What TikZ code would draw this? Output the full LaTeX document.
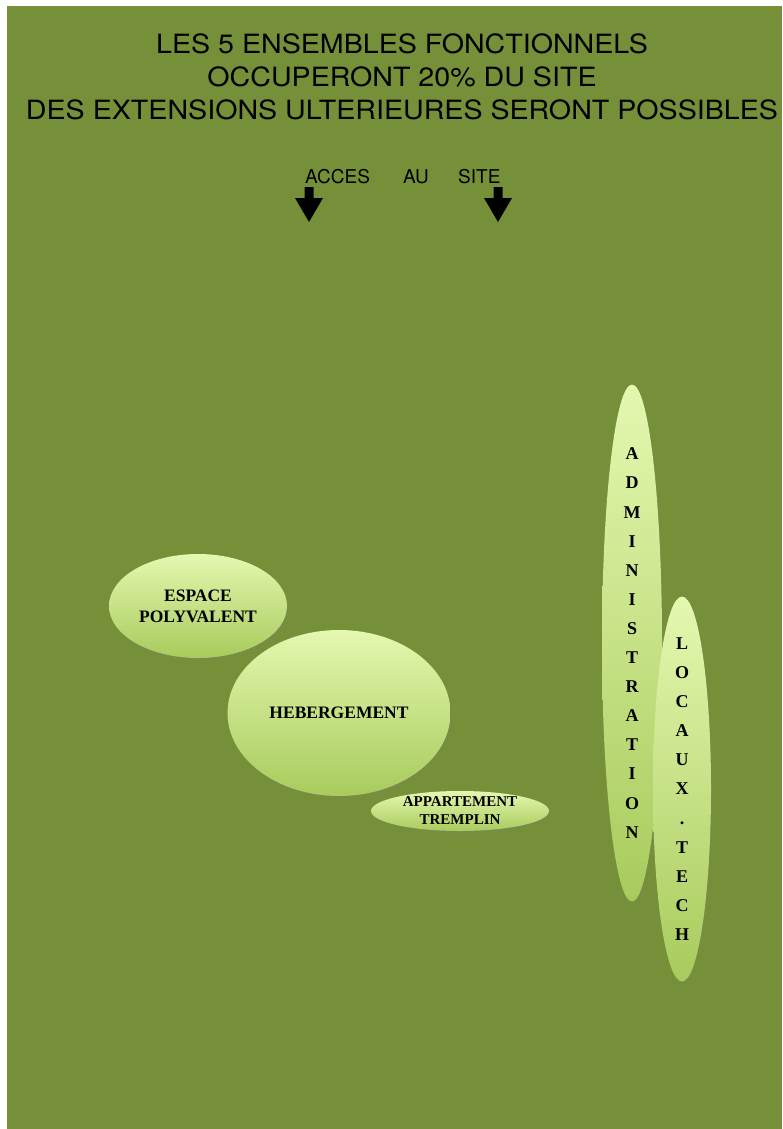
\documentclass[tikz,border=0pt]{standalone}
\usepackage{fontspec}
\setmainfont{Liberation Serif}
\newfontfamily\helv{TeX Gyre Heros}
\usepackage{xcolor}
\usepackage{tikz}
\usetikzlibrary{shapes.geometric,shadows,positioning,calc}

\definecolor{fond}{RGB}{118,144,58}
\definecolor{clair}{RGB}{228,248,176}
\definecolor{fonce}{RGB}{168,203,92}

\begin{document}
\begin{tikzpicture}[
    x=1pt, y=-1pt,
    blob/.style={ellipse, inner sep=0pt, top color=clair, bottom color=fonce,
        drop shadow={opacity=0.25, shadow xshift=1pt, shadow yshift=-2pt}},
    zone/.style={font=\bfseries\fontsize{17.5}{21}\selectfont, align=center, inner sep=0pt},
    vertical/.style={font=\bfseries\fontsize{18}{29.1}\selectfont, align=center, inner sep=0pt},
    titre/.style={font=\helv\fontsize{26.5}{33}\selectfont, anchor=base, inner sep=0pt, xscale=1.08},
    acces/.style={font=\helv\fontsize{19}{22}\selectfont, anchor=base west, inner sep=0pt},
    fleche/.pic={\fill (-4.5,0) -- (4.5,0) -- (4.5,11) -- (14,11) -- (0,35) -- (-14,11) -- (-4.5,11) -- cycle;}
]
    \useasboundingbox (0,0) rectangle (782,1129);
    \fill[fond] (7,6) rectangle (782,1129);

    % titre
    \node[titre] (ligne1) at (402,54) {LES 5 ENSEMBLES FONCTIONNELS};
    \node[titre] (ligne2) at (402,87) {OCCUPERONT 20\% DU SITE};
    \node[titre] (ligne3) at (402,120) {DES EXTENSIONS ULTERIEURES SERONT POSSIBLES};

    % acces au site
    \node[acces] (acces) at (305,183) {ACCES};
    \node[acces] (au) at (403,183) {AU};
    \node[acces] (site) at (458,183) {SITE};
    \pic at (309,187) {fleche};
    \pic at (498,187) {fleche};

    % ensembles
    \node[blob, minimum width=178, minimum height=104] (espace) at (198,606) {};
    \node[zone] at (espace) {ESPACE\\POLYVALENT};

    \node[blob, minimum width=223, minimum height=166] (heberg) at (339,713) {};
    \node[zone] at (heberg) {HEBERGEMENT};

    \node[blob, minimum width=178, minimum height=40] (tremplin) at (460,811) {};
    \node[zone, font=\bfseries\fontsize{15}{18}\selectfont] at (tremplin) {APPARTEMENT\\TREMPLIN};

    \node[blob, minimum width=60, minimum height=517] (admin) at (632,643) {};
    \node[vertical] at (admin) {A\\D\\M\\I\\N\\I\\S\\T\\R\\A\\T\\I\\O\\N};

    \node[blob, minimum width=58, minimum height=385] (locaux) at (682,789) {};
    \node[vertical] at (locaux) {L\\O\\C\\A\\U\\X\\.\\T\\E\\C\\H};
\end{tikzpicture}
\end{document}
